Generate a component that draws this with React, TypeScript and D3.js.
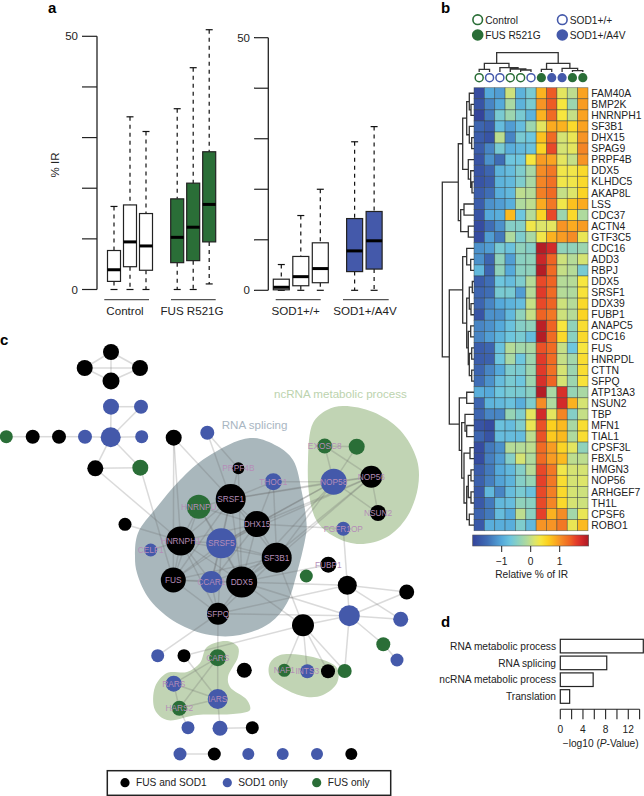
import * as d3 from "d3";

const FONT = "'Liberation Sans', Arial, sans-serif";
const GREEN = "#2a6e37";
const BLUE = "#4459aa";
const BLACK = "#000";

// panel a
const leftGroups = ["Control", "FUS R521G"];
const leftSlots = [0, 1, 2, 3.95, 4.95, 5.95];
const leftLow = [0, 0, 0, 0, 0, 1.1];
const leftQ1 = [1.6, 4.5, 3.8, 5.3, 5.7, 9.4];
const leftMed = [3.9, 9.4, 8.6, 10.3, 12.3, 16.8];
const leftQ3 = [7.7, 16.7, 15, 17.9, 21, 27.2];
const leftHigh = [16.4, 34.1, 31.2, 35.7, 43.8, 51.3];
const leftFill = ["#fff", "#fff", "#fff", GREEN, GREEN, GREEN];

const rightGroups = ["SOD1+/+", "SOD1+/A4V"];
const rightSlots = [0, 1, 2, 3.76, 4.76];
const rightLow = [0, 0, 0, 0, 0];
const rightQ1 = [0.1, 0.9, 1.5, 3.7, 4.2];
const rightMed = [0.6, 2.7, 4.3, 7.8, 9.8];
const rightQ3 = [2.2, 6.7, 9.4, 14.2, 15.6];
const rightHigh = [5.1, 14.8, 20, 29.4, 32.4];
const rightFill = ["#fff", "#fff", "#fff", BLUE, BLUE];

// panel b
const geneNames = ["FAM40A", "BMP2K", "HNRNPH1", "SF3B1", "DHX15", "SPAG9", "PRPF4B", "DDX5", "KLHDC5", "AKAP8L", "LSS", "CDC37", "ACTN4", "GTF3C5", "CDC16", "ADD3", "RBPJ", "DDX5", "SRSF1", "DDX39", "FUBP1", "ANAPC5", "CDC16", "FUS", "HNRPDL", "CTTN", "SFPQ", "ATP13A3", "NSUN2", "TBP", "MFN1", "TIAL1", "CPSF3L", "FBXL5", "HMGN3", "NOP56", "ARHGEF7", "TH1L", "CPSF6", "ROBO1"];
const irValues = [
  [-1.9, -1, -1.1, 0.05, -0.9, -0.6, 0.8, 1.4, 0.2, -0.05, 0.9],
  [-1.8, -1.3, -1, -0.2, -0.9, -0.6, 1, 1.4, 0.35, -0.3, 0.95],
  [-2, -1.4, -0.6, -0.3, -0.6, -0.9, 0.8, 1.3, 0.35, 0, 0.9],
  [-1.6, -1.7, -0.8, -1.1, -0.8, -0.3, 0.2, 0.85, 0.8, 0.5, 0.9],
  [-1.7, -1.8, -0.05, -1.3, -0.6, -0.7, 0.7, 1.3, 0.1, 0.25, 1],
  [-1.7, -1.3, -0.6, -0.95, -0.85, -0.75, 0.55, 1.5, 0.1, 0.2, 1.1],
  [-1.8, -1.2, -1.5, -0.7, -0.7, 0.35, 0.95, 0.9, 0.2, 0, 1],
  [-1.8, -1.6, -0.9, -0.8, -0.55, -0.2, 1.05, 1.2, 0.3, 0.3, 0.5],
  [-1.8, -1.7, -0.9, -0.85, -0.55, -0.2, 1.1, 1.25, 0.3, 0.3, 0.5],
  [-1.7, -1.5, -0.95, -0.85, -0.05, -0.1, 1.15, 1.3, 0, 0.15, 0.55],
  [-1.7, -1.2, -1.1, -0.95, -0.15, -0.05, 0.85, 1.2, 0.3, 0.7, 0.85],
  [-1.8, -1, -0.95, 0.75, -0.7, -0.1, 0.55, 1.5, -0.3, 0.5, -0.15],
  [-1.9, -1.5, -1.2, -0.5, -0.5, 0.3, 0.15, 0.2, 1, 0.85, 0.95],
  [-1.9, -1.1, -1.4, -0.15, -0.55, -0.2, 0.3, 0.8, 0.95, 1.05, 0.25],
  [-1.2, -1.1, -0.6, -0.75, -0.4, -0.5, 1.95, 1.75, -0.4, -0.4, -0.3],
  [-1.2, -1.6, -0.4, -1.1, -0.45, -0.4, 1.8, 1.35, 0.05, -0.1, 0.1],
  [-0.85, -1.6, -0.4, -1, -0.45, -0.4, 1.95, 1.3, 0, -0.1, -0.6],
  [-1.7, -1.5, -0.7, -0.8, -0.55, -0.1, 1.5, 1.35, -0.1, -0.1, 0.35],
  [-1.6, -1.5, -0.6, -0.6, -1.1, -0.1, 1.6, 1.3, -0.1, -0.15, 0.4],
  [-1.6, -1.3, -1, -0.9, -0.8, 0, 1.5, 1.35, 0.05, -0.1, 0.5],
  [-1.8, -1.2, -1.2, -0.85, -0.4, 0, 1.35, 1.2, 0.05, -0.1, 0.55],
  [-1.3, -1.2, -1, -0.75, -0.5, -0.4, 1.9, 1.35, 0.35, -0.4, 0.45],
  [-1.3, -1.1, -0.9, -0.7, -0.6, -0.8, 1.95, 1.3, 0.5, -0.45, 0.5],
  [-1.7, -1.6, -0.75, -0.1, -0.25, -0.2, 1.45, 1.3, 0, -0.7, 0.35],
  [-1.7, -1.65, -0.7, -0.2, -0.7, -0.3, 1.6, 1.3, 0, -0.25, 0.45],
  [-1.6, -1.3, -1, -0.55, -0.6, -0.3, 1.6, 1.25, 0.1, -0.3, 0.45],
  [-1.5, -1.2, -0.8, -0.6, -0.7, -0.3, 1.7, 1.35, 0.1, -0.3, 0.4],
  [-0.95, -1, -0.7, -0.6, -0.6, -0.45, 1.95, -0.2, 1.7, -0.35, -0.2],
  [-1.6, -0.9, -0.85, -0.75, -0.95, -0.55, 1.05, -0.15, 1.75, 0.8, 0.1],
  [-1.6, -1.3, -1.3, -0.35, -0.55, 0.2, 1.75, 0.2, 1.1, -0.5, 0],
  [-1.8, -1.9, -0.75, -0.8, -0.55, 0.25, 1.45, 0.6, 0.75, -0.2, 0.45],
  [-1.6, -1.8, -0.8, -0.8, -0.8, -0.05, 1.45, 0.65, 0.75, -0.15, 0.45],
  [-1.9, -1.4, -1.2, -0.1, -0.1, -0.05, 1.3, 0.95, 0.55, 0.2, -0.4],
  [-1.9, -1.35, -1.1, -0.5, 0.1, -0.15, 1.3, 0.95, 0.75, -0.05, -0.05],
  [-1.7, -1.4, -1, -0.85, -0.5, -0.1, 1.5, 1.2, 0.3, 0.1, 0.1],
  [-1.65, -1.35, -1.05, -0.9, -0.5, -0.35, 1.55, 1.2, 0.45, 0.1, 0.15],
  [-1.75, -0.85, -1.3, -0.8, -0.6, -0.75, 1.5, 1.15, 0.5, 0.1, 0.05],
  [-1.75, -1.4, -0.85, -0.8, -0.4, -0.45, 1.5, 1.1, 0.5, 0.1, 0.05],
  [-1.6, -1.4, -0.8, -1, -0.05, -0.45, 1.55, 0.8, 1.05, -0.25, 0.25],
  [-1.75, -0.95, -0.95, -0.95, -0.55, -0.85, 1, 1, 1.2, 0.25, 0.75],
];
const colourStops = [-2, -1.5, -1, -0.7, -0.4, -0.1, 0.15, 0.35, 0.6, 0.85, 1.05, 1.35, 1.55, 1.75, 2];
const colourValues = ["#34449b", "#3f6db5", "#55a9da", "#6ec6de", "#90d2bb", "#b5db98", "#dde56a", "#f7e63f", "#fcd01f", "#fbab20", "#f58c26", "#ef6424", "#e5402a", "#d22a2a", "#ab1a25"];
const sampleRing = [GREEN, BLUE, BLUE, GREEN, GREEN, BLUE, GREEN, BLUE, BLUE, GREEN, GREEN];
const sampleFilled = [false, false, false, false, false, false, true, true, true, true, true];
const sampleKeys = [
  { name: "Control", colour: GREEN, filled: false, col: 0, row: 0 },
  { name: "FUS R521G", colour: GREEN, filled: true, col: 0, row: 1 },
  { name: "SOD1+/+", colour: BLUE, filled: false, col: 1, row: 0 },
  { name: "SOD1+/A4V", colour: BLUE, filled: true, col: 1, row: 1 },
];

// dendrograms: [merge height, left, right], a bare number is a leaf
type Tree = number | [number, Tree, Tree];
const colTree: Tree = [19.3,
  [8.7, [2.7, 0, 1], [4.3, 2, [3, 3, [2, 4, 5]]]],
  [8.7, [2.7, 6, 7], [3.7, 8, [1.3, 9, 10]]],
];
const rowTree: Tree = [31.7,
  [15.7,
    [11.3,
      [7.3, [4.7, 0, [3, 1, 2]], [4.7, 3, [2.3, 4, 5]]],
      [5.7, 6, [3.3, 7, [2, 8, 9]]],
    ],
    [13.3, [10, 10, 11], [5.7, 12, 13]],
  ],
  [24.7,
    [11.3,
      [7.3, 14, [3.3, 15, 16]],
      [7.3, [4.7, [1.7, 17, 18], [3, 19, 20]], [5.7, [3.3, 21, 22], [4.7, [2.3, 23, 24], [2.3, 25, 26]]]],
    ],
    [14.7,
      [7.3, 27, 28],
      [12.3,
        [9, 29, [7.3, 30, 31]],
        [10, [4, 32, 33], [7.3, [5.7, [3, 34, 35], [3, 36, 37]], [4.7, 38, 39]]],
      ],
    ],
  ],
];

// panel c
const blobSplicing = [[250, 438], [277, 446], [293, 460], [302, 493], [306.7, 527], [305, 540], [297, 573], [287, 603], [270, 623], [240, 635], [210, 635], [177, 623], [150, 600], [137, 573], [135, 557], [138, 533], [157, 507], [180, 480], [207, 457]];
const blobNcrna = [[343, 406], [373, 412], [400, 430], [417, 460], [418, 487], [407, 517], [387, 537], [360, 544], [337, 538], [318, 523], [310, 500], [308, 460], [313, 423], [327, 410]];
const blobTrna = [[227, 641], [238, 647], [238, 657], [228, 677], [230, 687], [247, 700], [250, 710], [233, 714], [197, 715], [167, 720], [155, 710], [155, 687], [167, 673], [187, 672], [200, 663], [207, 647]];
const blobNaf = [[270, 663], [280, 655], [313, 657], [337, 668], [337, 683], [323, 695], [307, 697], [287, 690], [270, 677]];

const nodeIds = ["t1", "t2", "t3", "t4", "b1", "b2", "g1", "k1", "k2", "b3", "b4", "b5", "k3", "b6", "k4", "g2", "k5", "HNRNPU", "SRSF1", "PRPF4B", "HNRNPH1", "SRSF5", "CELF1", "THOC1", "EXOSC8", "g3", "NOP58", "NOP56", "NSUN2", "FGFR1OP", "DHX15", "SF3B1", "FUBP1", "g4", "k6", "FUS", "CCAR1", "DDX5", "SFPQ", "k7", "b7", "k8", "b8", "g5", "b9", "CARS", "b10", "k9", "k10", "NAF1", "INTS3", "k11", "g6", "RARS", "IARS", "HARS2", "b11", "b12", "k12", "b13", "k13", "b14", "b15", "b16", "k14"];
const nodeX = [111, 84.7, 140, 111, 111, 141, 6.3, 32.7, 59, 85, 110.7, 141.7, 173.7, 207.3, 95.3, 140.3, 125, 198.7, 230.7, 238.3, 180.7, 221.3, 150.7, 273.3, 324.7, 356.7, 333.7, 371.3, 378, 343.3, 257, 276.7, 328.3, 306.3, 347.3, 173.3, 211.3, 241.7, 218, 303, 349.3, 406.7, 400.7, 383.3, 397, 217.7, 157.7, 184, 244.3, 284.3, 307.3, 328, 344.7, 173.7, 217.7, 179.3, 188, 220, 252.3, 180, 214.3, 248.3, 282.7, 317, 351.3];
const nodeY = [352, 368, 368, 381, 406.7, 406.7, 436.7, 436.7, 436.7, 436.7, 437.3, 436.7, 437.7, 432.7, 468.3, 467.7, 524.3, 506.7, 499, 468.3, 541, 543.3, 550, 481.7, 446, 446.7, 481.7, 476.7, 513, 528.7, 524, 557.7, 564.7, 576, 585.3, 580, 582, 582, 613.7, 625.3, 615.7, 592, 619.3, 644.3, 660, 657.7, 655.7, 655.7, 670.3, 670.3, 671.3, 671.3, 671, 683.7, 699, 708.3, 727.7, 728.3, 727.7, 754, 754, 754, 754, 754, 754];
const nodeR = [8, 8, 8, 8.5, 8, 7, 6.5, 7, 7, 7, 10, 6.5, 8, 7, 8, 8, 6.5, 12, 15, 6, 14.5, 15, 6.5, 8.5, 7.5, 8, 13, 11, 8, 7, 13, 15, 8, 6.5, 9.5, 12.5, 11, 15.5, 11, 11, 10.5, 7.5, 7.5, 7, 6.5, 8.5, 6.5, 6.5, 7.5, 6.5, 7, 7, 7, 8, 10, 7.5, 6.5, 7.5, 6.5, 6.5, 6.5, 6, 6, 6, 6];
const nodeLabelled = ["HNRNPU", "SRSF1", "PRPF4B", "HNRNPH1", "SRSF5", "CELF1", "THOC1", "EXOSC8", "NOP58", "NOP56", "NSUN2", "FGFR1OP", "DHX15", "SF3B1", "FUBP1", "FUS", "CCAR1", "DDX5", "SFPQ", "CARS", "NAF1", "INTS3", "RARS", "IARS", "HARS2"];
const nodeColour = (id: string) => {
  if (/^g\d/.test(id) || ["HNRNPU", "EXOSC8", "CARS", "NAF1", "HARS2"].includes(id)) return GREEN;
  if (/^b\d/.test(id) || ["SRSF5", "CELF1", "THOC1", "NOP58", "FGFR1OP", "CCAR1", "INTS3", "RARS", "IARS"].includes(id)) return BLUE;
  return BLACK;
};
const edgePairs = `t1-t2 t1-t3 t1-t4 t2-t3 t2-t4 t3-t4 b1-b2 b1-b4 b2-b4 g1-k1 k1-k2 k2-b3 b3-b4 b4-b5 b4-k4 b4-g2 k4-g2
k4-HNRNPH1 g2-FUS k5-HNRNPH1 k3-HNRNPH1 k3-SRSF1 k3-FUS b6-SRSF1 b6-PRPF4B
HNRNPU-SRSF1 HNRNPU-HNRNPH1 HNRNPU-SRSF5 HNRNPU-DHX15 HNRNPU-DDX5 HNRNPU-FUS SRSF1-DHX15 SRSF1-HNRNPH1 SRSF1-SRSF5 SRSF1-SF3B1 SRSF1-DDX5 SRSF1-CCAR1 SRSF1-FUS SRSF1-THOC1 SRSF1-NOP58 SRSF1-NOP56
DHX15-SRSF5 DHX15-HNRNPH1 DHX15-SF3B1 DHX15-DDX5 DHX15-FUS DHX15-CCAR1 DHX15-NOP58 DHX15-NOP56 DHX15-THOC1 DHX15-FGFR1OP
HNRNPH1-SRSF5 HNRNPH1-SF3B1 HNRNPH1-FUS HNRNPH1-CCAR1 HNRNPH1-DDX5 HNRNPH1-SFPQ HNRNPH1-CELF1
SRSF5-SF3B1 SRSF5-FUS SRSF5-CCAR1 SRSF5-DDX5 SRSF5-SFPQ SRSF5-NOP58 SRSF5-NOP56 SF3B1-DDX5 SF3B1-FUS SF3B1-CCAR1 SF3B1-SFPQ SF3B1-NOP58 SF3B1-NOP56 SF3B1-k7
FUS-CCAR1 FUS-DDX5 FUS-SFPQ CCAR1-DDX5 CCAR1-SFPQ DDX5-SFPQ DDX5-NOP58 DDX5-NOP56 DDX5-k7 DDX5-k6 DDX5-FUBP1 DDX5-b7 PRPF4B-SRSF1 PRPF4B-DDX5 THOC1-NOP58 THOC1-SF3B1
EXOSC8-g3 EXOSC8-NOP58 EXOSC8-NOP56 g3-NOP58 NOP58-NOP56 NOP58-NSUN2 NOP56-NSUN2 FGFR1OP-k6 SFPQ-b7 SFPQ-b10 SFPQ-CARS SFPQ-k6
CARS-IARS CARS-RARS CARS-HARS2 RARS-IARS RARS-HARS2 IARS-HARS2 IARS-k9 k9-k7 HARS2-b11 IARS-b12 b12-k12 b13-k13
k7-NAF1 k7-INTS3 k7-k11 k7-g6 k7-b7 b7-g6 b7-k8 b7-b8 b7-g5 g5-b9 k6-k8 k6-b8 k6-b7`.split(/\s+/).map((s) => s.split("-"));
const legendKinds = ["FUS and SOD1", "SOD1 only", "FUS only"];
const legendColours = [BLACK, BLUE, GREEN];

// panel d
const goTerms = ["RNA metabolic process", "RNA splicing", "ncRNA metabolic process", "Translation"];
const goValues = [14.65, 8.2, 5.8, 1.65];

const blobLine = d3.line().curve(d3.curveCatmullRomClosed.alpha(0.5));

function BoxGroup({ slots, low, q1, med, q3, high, fill, x, y, w, axisX, tickEnd, groups, groupCentres, groupLines }: any) {
  return (
    <g>
      <path d={`M${axisX},${y(0)}V${y(50)}`} stroke="#222" strokeWidth={1.3} fill="none" />
      {d3.range(0, 60, 10).map((t) => (
        <line key={t} x1={tickEnd} x2={axisX} y1={y(t)} y2={y(t)} stroke="#222" strokeWidth={1.2} />
      ))}
      {[0, 50].map((t) => (
        <text key={t} x={tickEnd - 4} y={y(t) + 4} textAnchor="end" fontSize={11.5} fill="#222">{t}</text>
      ))}
      {slots.map((s: number, i: number) => {
        const cx = x(s);
        return (
          <g key={i}>
            <line x1={cx} x2={cx} y1={y(high[i])} y2={y(q3[i])} stroke="#111" strokeWidth={1.2} strokeDasharray="4 4" />
            <line x1={cx} x2={cx} y1={y(q1[i])} y2={y(low[i])} stroke="#111" strokeWidth={1.2} strokeDasharray="4 4" />
            <line x1={cx - 3.5} x2={cx + 3.5} y1={y(high[i])} y2={y(high[i])} stroke="#111" strokeWidth={1.2} />
            <line x1={cx - 3.5} x2={cx + 3.5} y1={y(low[i])} y2={y(low[i])} stroke="#111" strokeWidth={1.2} />
            <rect x={cx - w / 2} width={w} y={y(q3[i])} height={y(q1[i]) - y(q3[i])} fill={fill[i]} stroke="#222" strokeWidth={1.2} />
            <line x1={cx - w / 2} x2={cx + w / 2} y1={y(med[i])} y2={y(med[i])} stroke="#000" strokeWidth={3} />
          </g>
        );
      })}
      {groups.map((g: string, i: number) => (
        <g key={g}>
          <line x1={groupLines[i][0]} x2={groupLines[i][1]} y1={299.7} y2={299.7} stroke="#555" strokeWidth={1.2} />
          <text x={groupCentres[i]} y={315} textAnchor="middle" fontSize={11.6} fill="#222">{g}</text>
        </g>
      ))}
    </g>
  );
}

function Dendrogram({ tree, leafPos, heightPos, horizontal }: any) {
  const root = d3.hierarchy(tree as any, (d: any) => (Array.isArray(d) ? d.slice(1) : null));
  const segs: string[] = [];
  const place = (n: any): number => {
    if (!n.children) return leafPos(n.data);
    const [a, b] = n.children;
    const pa = place(a);
    const pb = place(b);
    const h = heightPos(n.data[0]);
    const ha = a.children ? heightPos(a.data[0]) : heightPos(0);
    const hb = b.children ? heightPos(b.data[0]) : heightPos(0);
    segs.push(horizontal
      ? `M${pa},${ha}V${h}H${pb}V${hb}`
      : `M${ha},${pa}H${h}V${pb}H${hb}`);
    return (pa + pb) / 2;
  };
  place(root);
  return <path d={segs.join("")} fill="none" stroke="#333" strokeWidth={1.3} />;
}

export default function App() {
  // a
  const yLeft = d3.scaleLinear([0, 50], [289.5, 36.3]);
  const xLeft = d3.scaleLinear([0, 1], [114, 130]);
  const yRight = d3.scaleLinear([0, 50], [290.3, 37.7]);
  const xRight = d3.scaleLinear([0, 1], [281.3, 300.8]);

  // b
  const xCol = d3.scaleBand(d3.range(11), [474, 588]);
  const yRow = d3.scaleBand(d3.range(geneNames.length), [87.7, 530.7]);
  const colour = d3.scaleLinear<string>(colourStops, colourValues).clamp(true);
  const xBar = d3.scaleLinear([-2, 2], [472.7, 588.7]);
  const legendX = d3.scalePoint([0, 1], [477.7, 562.3]);
  const legendY = d3.scalePoint([0, 1], [19.7, 35]);

  // c
  const pos = new Map(nodeIds.map((id, i) => [id, [nodeX[i], nodeY[i]]]));
  const xLegendKind = d3.scaleOrdinal<number, number>([0, 1, 2], [125, 227.3, 316.7]);

  // d
  const xGo = d3.scaleLinear([0, 2], [560.3, 571.63]);
  const yGo = d3.scaleBand(goTerms, [639.3, 703.3]).paddingInner(0.19).paddingOuter(0);

  return (
    <svg width={644} height={796} viewBox="0 0 644 796" style={{ position: "absolute", left: 0, top: 0 }} fontFamily={FONT}>
      <defs>
        <linearGradient id="irBar">
          {colourStops.map((s, i) => (
            <stop key={s} offset={(s + 2) / 4} stopColor={colourValues[i]} />
          ))}
        </linearGradient>
      </defs>
      <text x={48} y={13} fontSize={15} fontWeight="bold">a</text>
      <text x={441} y={13} fontSize={15} fontWeight="bold">b</text>
      <text x={0} y={345} fontSize={15} fontWeight="bold">c</text>
      <text x={441} y={627} fontSize={15} fontWeight="bold">d</text>

      {/* a */}
      <text transform="translate(59,165) rotate(-90)" textAnchor="middle" fontSize={11.5} fill="#222">% IR</text>
      <BoxGroup slots={leftSlots} low={leftLow} q1={leftQ1} med={leftMed} q3={leftQ3} high={leftHigh} fill={leftFill}
        x={xLeft} y={yLeft} w={13} axisX={97} tickEnd={82} groups={leftGroups} groupCentres={[125, 192]} groupLines={[[104.3, 149], [171, 215.7]]} />
      <BoxGroup slots={rightSlots} low={rightLow} q1={rightQ1} med={rightMed} q3={rightQ3} high={rightHigh} fill={rightFill}
        x={xRight} y={yRight} w={16} axisX={268.3} tickEnd={254} groups={rightGroups} groupCentres={[295.7, 365]} groupLines={[[275.7, 320.7], [343, 388.7]]} />

      {/* b */}
      {sampleKeys.map((k) => (
        <g key={k.name}>
          <circle cx={legendX(k.col)} cy={legendY(k.row)} r={k.filled ? 5.8 : 4.8} fill={k.filled ? k.colour : "#fff"} stroke={k.colour} strokeWidth={k.filled ? 0 : 1.6} />
          <text x={legendX(k.col)! + 7.5} y={legendY(k.row)! + 3.8} fontSize={10.2} fill="#222">{k.name}</text>
        </g>
      ))}
      <Dendrogram tree={colTree} horizontal leafPos={(i: number) => xCol(i)! + xCol.bandwidth() / 2} heightPos={d3.scaleLinear([0, 20], [72, 52])} />
      {sampleRing.map((c, i) => (
        <circle key={i} cx={xCol(i)! + xCol.bandwidth() / 2} cy={77.7} r={sampleFilled[i] ? 4.6 : 4} fill={sampleFilled[i] ? c : "#fff"} stroke={c} strokeWidth={sampleFilled[i] ? 0 : 1.5} />
      ))}
      <Dendrogram tree={rowTree} leafPos={(i: number) => yRow(i)! + yRow.bandwidth() / 2} heightPos={d3.scaleLinear([0, 33], [474, 441])} />
      {irValues.map((row, r) => row.map((v, c) => (
        <rect key={`${r}-${c}`} x={xCol(c)} y={yRow(r)} width={xCol.bandwidth()} height={yRow.bandwidth()} fill={colour(v)} stroke="#2f3a3a" strokeOpacity={0.6} strokeWidth={0.7} />
      )))}
      {geneNames.map((g, r) => (
        <text key={`${g}${r}`} x={591.3} y={yRow(r)! + yRow.bandwidth() / 2 + 3.6} fontSize={10.4} fill="#222">{g}</text>
      ))}
      <rect x={xBar(-2)} y={535} width={xBar(2) - xBar(-2)} height={11} fill="url(#irBar)" stroke="#555" strokeWidth={0.6} />
      {[-1, 0, 1].map((t) => (
        <g key={t}>
          <line x1={xBar(t)} x2={xBar(t)} y1={546} y2={552} stroke="#222" strokeWidth={1} />
          <text x={xBar(t)} y={565} textAnchor="middle" fontSize={10.2} fill="#222">{t < 0 ? `\u2212${-t}` : t}</text>
        </g>
      ))}
      <text x={531.7} y={577.5} textAnchor="middle" fontSize={10.2} fill="#222">Relative % of IR</text>

      {/* c */}
      <path d={blobLine(blobSplicing as any)!} fill="#a9b7bc" />
      <path d={blobLine(blobNcrna as any)!} fill="#c1d4b4" />
      <path d={blobLine(blobTrna as any)!} fill="#c1d4b4" />
      <path d={blobLine(blobNaf as any)!} fill="#c1d4b4" />
      <text x={221.7} y={429} fontSize={11.6} fill="#a9b6c2">RNA splicing</text>
      <text x={274} y={398} fontSize={11.6} fill="#bcd3ae">ncRNA metabolic process</text>
      {edgePairs.map(([a, b], i) => (
        <line key={i} x1={pos.get(a)![0]} y1={pos.get(a)![1]} x2={pos.get(b)![0]} y2={pos.get(b)![1]} stroke="#666" strokeOpacity={0.24} strokeWidth={1.5} />
      ))}
      {nodeIds.map((id, i) => (
        <circle key={id} cx={nodeX[i]} cy={nodeY[i]} r={nodeR[i]} fill={nodeColour(id)} />
      ))}
      {nodeLabelled.map((id) => (
        <text key={id} x={pos.get(id)![0]} y={pos.get(id)![1] + 3} textAnchor="middle" fontSize={8.3} fill="#b58db8">{id}</text>
      ))}
      <rect x={107.3} y={770.7} width={283.4} height={24.6} fill="#fff" stroke="#222" strokeWidth={1.5} />
      {legendKinds.map((k, i) => (
        <g key={k}>
          <circle cx={xLegendKind(i)} cy={782.7} r={4.6} fill={legendColours[i]} />
          <text x={xLegendKind(i) + 11} y={786.3} fontSize={10.2} fill="#222">{k}</text>
        </g>
      ))}

      {/* d */}
      {goTerms.map((t, i) => (
        <g key={t}>
          <rect x={xGo(0)} y={yGo(t)} width={xGo(goValues[i]) - xGo(0)} height={yGo.bandwidth()} fill="#fff" stroke="#222" strokeWidth={1.2} />
          <text x={556} y={yGo(t)! + yGo.bandwidth() / 2 + 3.6} textAnchor="end" fontSize={10.2} fill="#222">{t}</text>
        </g>
      ))}
      <path d={`M${xGo(0)},709.3H${xGo(14)}`} stroke="#222" strokeWidth={1.1} fill="none" />
      {d3.range(0, 16, 2).map((t) => (
        <line key={t} x1={xGo(t)} x2={xGo(t)} y1={709.3} y2={719.3} stroke="#222" strokeWidth={1.1} />
      ))}
      {[0, 4, 8, 12].map((t) => (
        <text key={t} x={xGo(t)} y={733} textAnchor="middle" fontSize={10.2} fill="#222">{t}</text>
      ))}
      <text x={600.7} y={746.5} textAnchor="middle" fontSize={10.2} fill="#222">{"\u2212log10 ("}<tspan fontStyle="italic">P</tspan>{"-Value)"}</text>
    </svg>
  );
}
